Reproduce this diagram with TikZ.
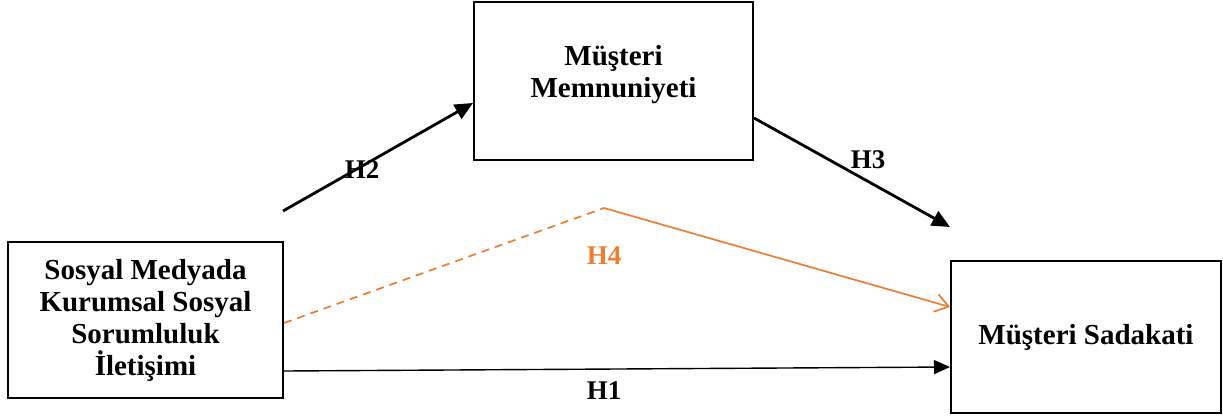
\documentclass[tikz,border=0pt]{standalone}
\usepackage{fontspec}
\setmainfont{Liberation Serif}
\usetikzlibrary{arrows.meta,calc}
\definecolor{hfour}{HTML}{ED7D31}
\begin{document}
\begin{tikzpicture}[x=1pt,y=-1pt,
  box/.style={draw=black,line width=2pt,inner sep=0pt,align=center,font=\fontsize{29}{32}\selectfont\bfseries},
  lbl/.style={font=\fontsize{27}{30}\selectfont\bfseries,inner sep=0pt},
  thick arrow/.style={line width=2.8pt,-{Triangle[length=18pt,width=16pt]}},
  thin arrow/.style={line width=1.4pt,-{Triangle[length=16pt,width=14pt]}},
  orange line/.style={draw=hfour,line width=1.7pt}]
\useasboundingbox (0,0) rectangle (1223,416);
% boxes
\node[box,minimum width=275pt,minimum height=156pt] (L) at (145.5,320) {Sosyal Medyada\\Kurumsal Sosyal\\Sorumluluk\\İletişimi};
\node[box,minimum width=279pt,minimum height=158pt] (T) at (613.5,81) {};
\node[box,draw=none] (Tt) at (613.5,75) {Müşteri\\Memnuniyeti};
\node[box,minimum width=270pt,minimum height=152pt] (R) at (1086,337) {Müşteri Sadakati};
% coordinates
\coordinate (h2s) at (283,211);
\coordinate (h2e) at ($(T.west)+(0,22)$);
\coordinate (h3s) at ($(T.east)+(0,37)$);
\coordinate (h3e) at (950,227);
\coordinate (h4s) at ($(L.east)+(0,3)$);
\coordinate (h4m) at (604,208);
\coordinate (h4e) at ($(R.west)+(0,-30)$);
\coordinate (h1s) at ($(L.east)+(0,51)$);
\coordinate (h1e) at ($(R.west)+(0,30)$);
% connectors
\draw[thick arrow] (h2s) -- (h2e);
\draw[thick arrow] (h3s) -- (h3e);
\draw[orange line,dashed,dash pattern=on 8pt off 6pt] (h4s) -- (h4m);
\draw[orange line,-{Straight Barb[length=13pt,width=18pt,line width=1.7pt]}] (h4m) -- (h4e);
\draw[thin arrow] (h1s) -- (h1e);
% labels
\node[lbl] (H2) at (362,170) {H2};
\node[lbl] (H3) at (868,160) {H3};
\node[lbl,text=hfour] (H4) at (604,256) {H4};
\node[lbl] (H1) at (604,391) {H1};
\end{tikzpicture}
\end{document}
